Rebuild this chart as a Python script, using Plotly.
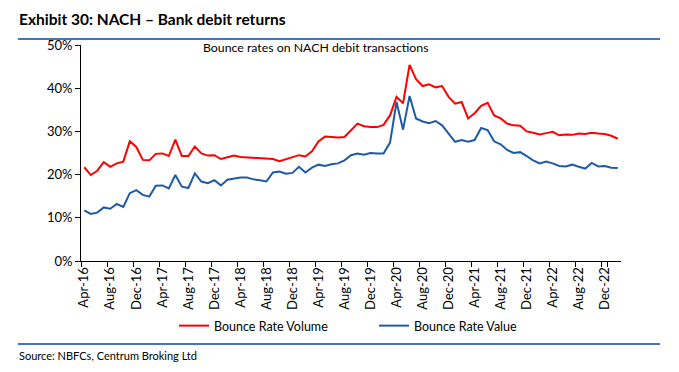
import plotly.graph_objects as go

# ---- data ----
start_year, start_month, n_months = 2016, 4, 83
month_names = ["Jan", "Feb", "Mar", "Apr", "May", "Jun", "Jul", "Aug", "Sep", "Oct", "Nov", "Dec"]
months = []
y_, m_ = start_year, start_month
for _ in range(n_months):
    months.append(f"{month_names[m_-1]}-{str(y_)[2:]}")
    m_ += 1
    if m_ > 12:
        m_ = 1
        y_ += 1

bounce_rate_volume = [
    21.7, 19.9, 20.9, 22.9, 21.8, 22.6, 23.0, 27.7, 26.4, 23.4,
    23.3, 24.8, 24.9, 24.3, 28.1, 24.3, 24.3, 26.5, 24.9, 24.4,
    24.5, 23.6, 24.0, 24.4, 24.1, 24.0, 24.0, 23.8, 23.7, 23.6,
    23.1, 23.6, 24.1, 24.5, 24.2, 25.4, 27.7, 28.8, 28.7, 28.6,
    28.7, 30.3, 31.8, 31.2, 31.0, 31.0, 31.5, 33.7, 38.0, 36.5,
    45.4, 42.1, 40.5, 40.9, 40.2, 40.5, 38.0, 36.4, 36.8, 33.0,
    34.2, 35.9, 36.6, 33.7, 33.0, 31.8, 31.4, 31.3, 30.0, 29.7,
    29.3, 29.6, 29.9, 29.1, 29.3, 29.2, 29.5, 29.4, 29.7, 29.5,
    29.4, 29.0, 28.3,
]
bounce_rate_value = [
    11.7, 10.9, 11.2, 12.4, 12.1, 13.2, 12.5, 15.7, 16.4, 15.3,
    14.9, 17.4, 17.5, 16.8, 19.9, 17.2, 16.9, 20.3, 18.4, 18.0,
    18.7, 17.5, 18.8, 19.1, 19.3, 19.3, 18.9, 18.7, 18.4, 20.5,
    20.7, 20.2, 20.4, 21.8, 20.5, 21.6, 22.3, 22.0, 22.4, 22.6,
    23.3, 24.5, 24.9, 24.6, 25.0, 24.9, 24.9, 27.4, 36.8, 30.4,
    38.2, 33.0, 32.3, 31.9, 32.4, 31.4, 29.5, 27.6, 28.0, 27.6,
    28.0, 30.8, 30.3, 27.7, 27.0, 25.7, 25.0, 25.2, 24.3, 23.3,
    22.6, 23.0, 22.6, 22.0, 21.9, 22.3, 21.8, 21.4, 22.7, 21.9,
    22.0, 21.6, 21.5,
]
tick_labels = months[::4]

FONT = "Lato"
OFF = 8                      # page body margin
W, H = 679 - OFF, 372 - OFF
L, R, T, B = 81 - OFF, 621 - OFF, 45 - OFF, 261 - OFF

def px(x):
    return (x - OFF - L) / (R - L)

def py(y):
    return (B - (y - OFF)) / (B - T)

fig = go.Figure()
fig.add_trace(go.Scatter(x=months, y=bounce_rate_volume, mode="lines",
                         name="Bounce Rate Volume",
                         line=dict(color="#FF0000", width=2)))
fig.add_trace(go.Scatter(x=months, y=bounce_rate_value, mode="lines",
                         name="Bounce Rate Value",
                         line=dict(color="#1F5AA8", width=2)))

fig.update_layout(
    width=W, height=H,
    margin=dict(l=L, r=W - R, t=T, b=H - B, autoexpand=False),
    paper_bgcolor="white", plot_bgcolor="white",
    font=dict(family=FONT, size=12, color="black"),
    showlegend=True,
    legend=dict(orientation="h", x=px(174), y=py(326), xanchor="left", yanchor="middle",
                font=dict(family=FONT, size=12.5, color="black"), itemwidth=30,
                entrywidth=155, entrywidthmode="pixels"),
    xaxis=dict(type="category", categoryorder="array", categoryarray=months,
               tickmode="array", tickvals=tick_labels, ticktext=tick_labels,
               tickson="boundaries", ticks="outside", ticklen=5, tickcolor="black",
               tickangle=-90, showline=True, linecolor="black", linewidth=1,
               showgrid=False, zeroline=False, tickfont=dict(size=13, family=FONT),
               range=[-0.5, n_months - 0.5], automargin=False),
    yaxis=dict(range=[0, 50], dtick=10, ticksuffix="%", ticks="outside", ticklen=5,
               tickcolor="black", showline=True, linecolor="black", linewidth=1,
               showgrid=False, zeroline=False, tickfont=dict(size=13, family=FONT),
               automargin=False),
    annotations=[
        dict(text="<b>Exhibit 30: NACH – Bank debit returns</b>", xref="paper", yref="paper",
             x=px(17), y=py(19), xanchor="left", yanchor="middle", showarrow=False,
             font=dict(size=15.5, family=FONT, color="black")),
        dict(text="Bounce rates on NACH debit transactions", xref="paper", yref="paper",
             x=px(316), y=py(48), xanchor="center", yanchor="middle", showarrow=False,
             font=dict(size=12.3, family=FONT, color="black")),
        dict(text="Source: NBFCs, Centrum Broking Ltd", xref="paper", yref="paper",
             x=px(17), y=py(355), xanchor="left", yanchor="middle", showarrow=False,
             font=dict(size=11, family=FONT, color="black")),
    ],
    shapes=[
        dict(type="line", xref="paper", yref="paper", x0=px(18), x1=px(660),
             y0=py(39), y1=py(39), line=dict(color="#4472C4", width=2)),
        dict(type="line", xref="paper", yref="paper", x0=px(18), x1=px(660),
             y0=py(344), y1=py(344), line=dict(color="#4472C4", width=2)),
    ],
)

fig.write_html("out.html")
